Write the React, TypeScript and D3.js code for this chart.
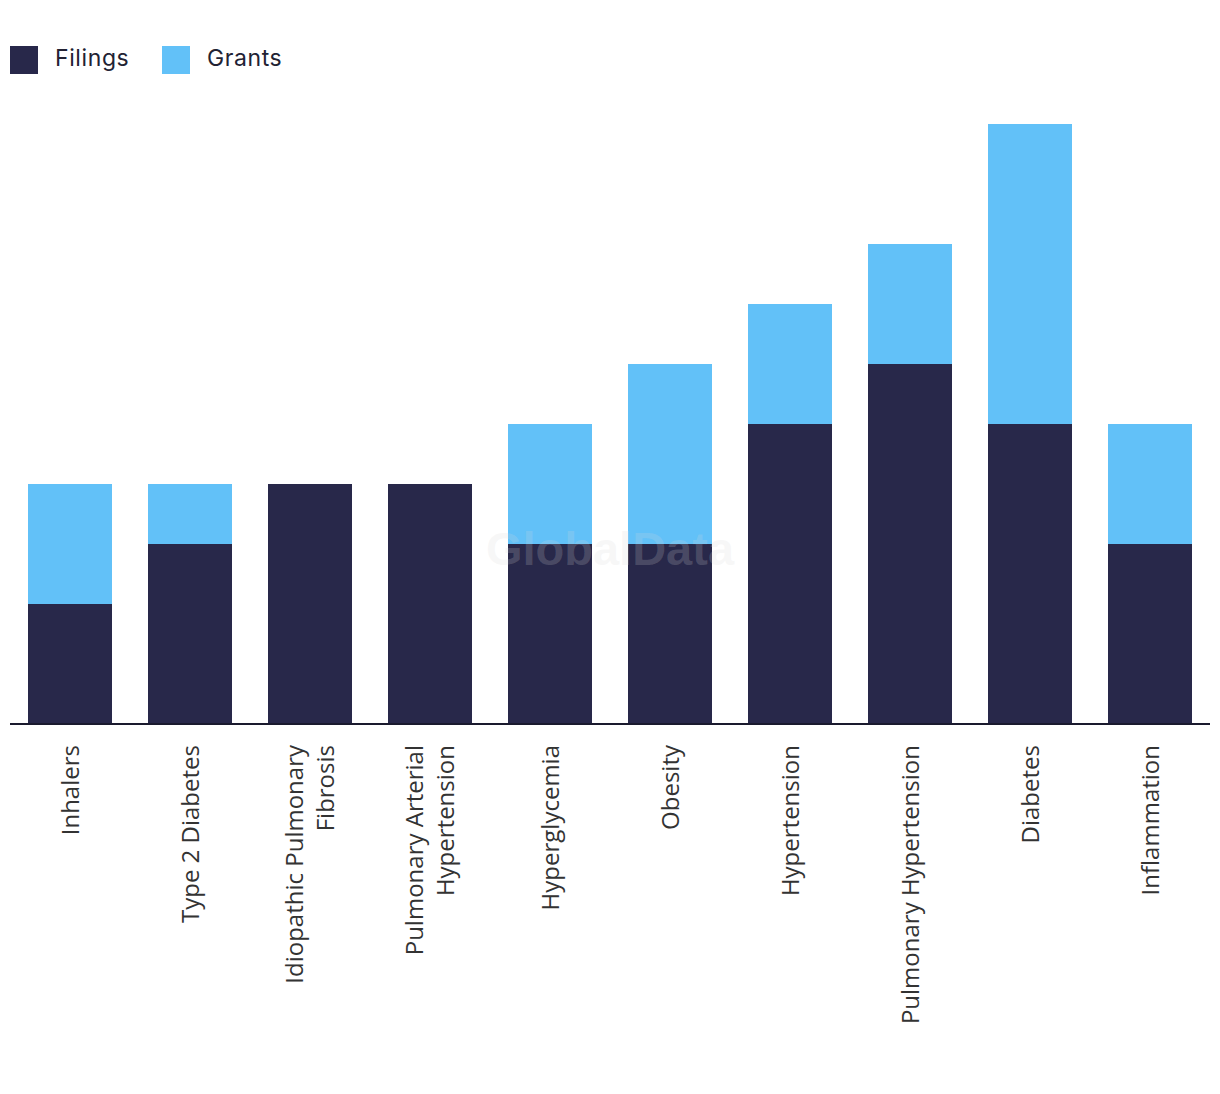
import React from "react";
import * as d3 from "d3";

const categories: string[][] = [
  ["Inhalers"],
  ["Type 2 Diabetes"],
  ["Idiopathic Pulmonary", "Fibrosis"],
  ["Pulmonary Arterial", "Hypertension"],
  ["Hyperglycemia"],
  ["Obesity"],
  ["Hypertension"],
  ["Pulmonary Hypertension"],
  ["Diabetes"],
  ["Inflammation"],
];
const filings = [2, 3, 4, 4, 3, 3, 5, 6, 5, 3];
const grants = [2, 1, 0, 0, 2, 3, 2, 2, 5, 2];
const seriesNames = ["Filings", "Grants"];
const colors = ["#28284a", "#62c1f8"];

const W = 1220;
const H = 1094;
const left = 10;
const right = 1210;
const baseline = 724;
const unitPx = 60;

export default function App() {
  const keys = categories.map((c) => c.join(" "));
  const x = d3.scaleBand<string>().domain(keys).range([left, right]).paddingInner(0.3).paddingOuter(0.15);
  const maxV = 10;
  const y = d3.scaleLinear().domain([0, maxV]).range([baseline, baseline - maxV * unitPx]);

  const rows = keys.map((k, i) => ({ key: k, Filings: filings[i], Grants: grants[i] }));
  const stack = d3.stack<any>().keys(seriesNames)(rows);

  return (
    <div style={{ margin: -8 }}>
      <svg width={W} height={H} style={{ display: "block", background: "#fff" }}>
        {/* legend */}
        {seriesNames.map((s, i) => {
          const lx = 10 + i * 152;
          return (
            <g key={s}>
              <rect x={lx} y={46} width={28} height={28} fill={colors[i]} />
              <text
                x={lx + 45}
                y={66}
                fontFamily="Inter, 'Noto Sans', sans-serif"
                fontSize={23}
                letterSpacing={0.6}
                fill="#222233"
              >
                {s}
              </text>
            </g>
          );
        })}
        {/* bars */}
        {stack.map((layer, li) => (
          <g key={layer.key} fill={colors[li]}>
            {layer.map((d, i) => {
              const h = y(d[0]) - y(d[1]);
              if (h <= 0) return null;
              return <rect key={i} x={x(keys[i])} y={y(d[1])} width={x.bandwidth()} height={h} />;
            })}
          </g>
        ))}
        {/* watermark */}
        <text
          x={610}
          y={565}
          textAnchor="middle"
          fontFamily="'Liberation Sans', Arial, sans-serif"
          fontWeight="bold"
          fontSize={47}
          fill="#d8d8d8"
          fillOpacity={0.2}
        >
          GlobalData
        </text>
        {/* axis */}
        <line x1={left} x2={right} y1={baseline} y2={baseline} stroke="#1a1a2e" strokeWidth={2} />
        {/* labels */}
        {categories.map((lines, i) => {
          const cx = (x(keys[i]) as number) + x.bandwidth() / 2;
          const n = lines.length;
          return (
            <g key={i} transform={`translate(${cx},745) rotate(-90)`}>
              {lines.map((ln, j) => (
                <text
                  key={j}
                  x={0}
                  y={(j - (n - 1) / 2) * 31 + 8.5}
                  textAnchor="end"
                  fontFamily="'Open Sans', sans-serif"
                  fontSize={24}
                  fill="#333333"
                >
                  {ln}
                </text>
              ))}
            </g>
          );
        })}
      </svg>
    </div>
  );
}
